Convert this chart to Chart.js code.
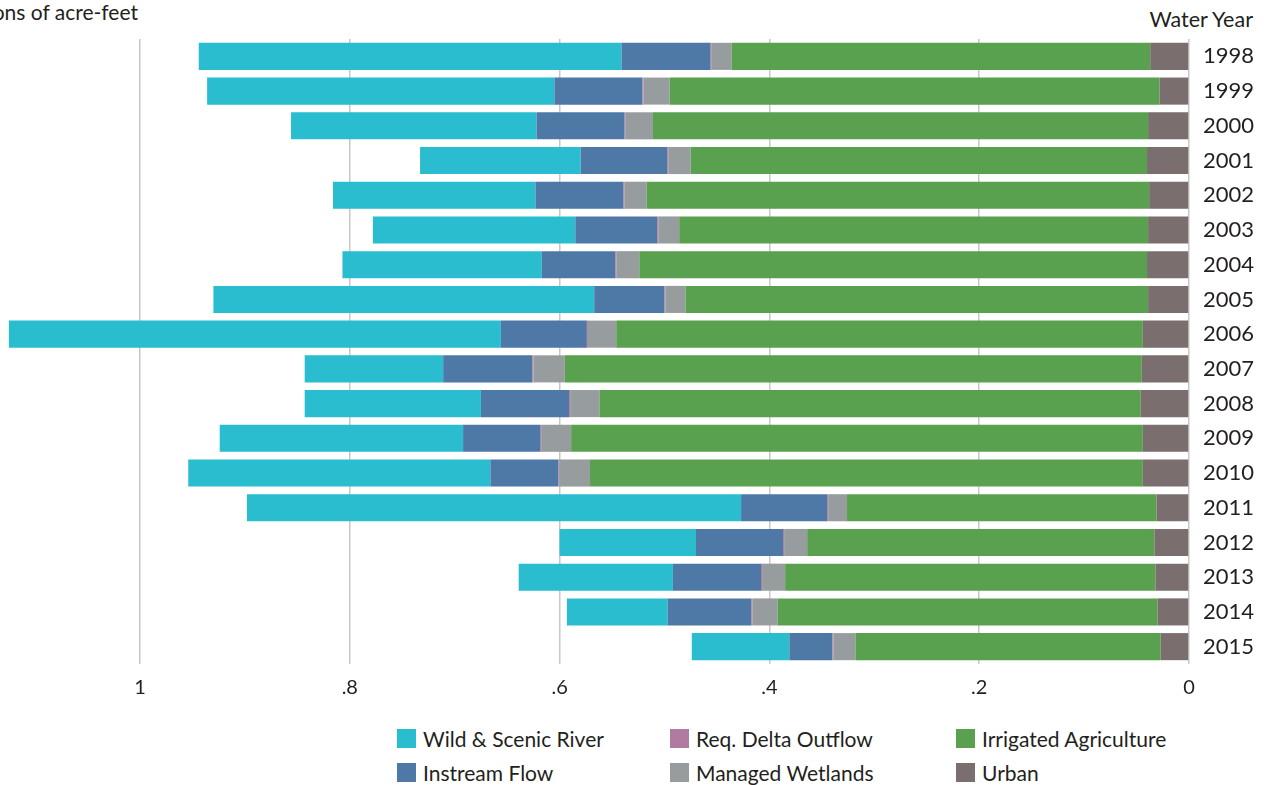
<!DOCTYPE html>
<html>
<head>
<meta charset="utf-8">
<script src="https://cdn.jsdelivr.net/npm/chart.js@4"></script>
<style>
  html, body { margin:0; padding:0; background:#fff; overflow:hidden; }
  body { width:1270px; height:785px; position:relative; font-family: Lato, "Open Sans", sans-serif; color:#231f20; }
  #wrap { position:absolute; left:0; top:0; width:1270px; height:710px; }
  #unit { position:absolute; right:1132px; top:-1px; font-size:21px; white-space:nowrap; line-height:26px; }
  #wy { position:absolute; right:17px; top:6px; font-size:21.5px; white-space:nowrap; line-height:26px; }
  .lg { position:absolute; font-size:21px; white-space:nowrap; line-height:24px; }
  .lg i { position:absolute; left:0; top:2px; width:19px; height:19px; }
  .lg span { position:absolute; left:26px; top:0; }
</style>
</head>
<body>
<div id="unit">Millions of acre-feet</div>
<div id="wy">Water Year</div>
<div id="wrap"><canvas id="c" width="1270" height="710"></canvas></div>
<div id="legend"></div>
<script>
const years = ["1998","1999","2000","2001","2002","2003","2004","2005","2006","2007","2008","2009","2010","2011","2012","2013","2014","2015"];
const urban     = [0.037,0.028,0.039,0.040,0.038,0.039,0.040,0.039,0.044,0.045,0.046,0.044,0.044,0.031,0.033,0.032,0.030,0.027];
const irrigAg   = [0.399,0.467,0.472,0.435,0.479,0.447,0.484,0.441,0.502,0.550,0.516,0.545,0.527,0.295,0.331,0.353,0.362,0.291];
const wetlands  = [0.019,0.025,0.026,0.021,0.021,0.020,0.022,0.019,0.027,0.030,0.028,0.028,0.029,0.018,0.022,0.022,0.024,0.021];
const reqDelta  = [0.001,0.001,0.001,0.001,0.001,0.001,0.001,0.001,0.001,0.001,0.001,0.001,0.001,0.001,0.001,0.001,0.001,0.001];
const instream  = [0.085,0.084,0.084,0.083,0.084,0.078,0.070,0.067,0.082,0.085,0.084,0.074,0.065,0.082,0.083,0.084,0.080,0.041];
const wildScenic= [0.403,0.331,0.234,0.153,0.193,0.193,0.190,0.363,0.469,0.132,0.168,0.232,0.288,0.471,0.130,0.147,0.096,0.093];
const xTicks = [0, 0.2, 0.4, 0.6, 0.8, 1];
const xTickLabels = ["0", ".2", ".4", ".6", ".8", "1"];

const seriesNames  = ["Urban","Irrigated Agriculture","Managed Wetlands","Req. Delta Outflow","Instream Flow","Wild & Scenic River"];
const seriesData   = [urban, irrigAg, wetlands, reqDelta, instream, wildScenic];
const seriesColors = ["#7a6e6e","#59a14f","#979d9e","#b07aa1","#4e79a7","#29bdcf"];
const legendOrder  = ["Wild & Scenic River","Req. Delta Outflow","Irrigated Agriculture","Instream Flow","Managed Wetlands","Urban"];

const FONT = "Lato, 'Open Sans', sans-serif";

const chart = new Chart(document.getElementById('c'), {
  type: 'bar',
  data: {
    labels: years,
    datasets: seriesNames.map((n, i) => ({
      label: n,
      data: seriesData[i],
      backgroundColor: seriesColors[i],
      borderWidth: 0,
      categoryPercentage: 1.0,
      barPercentage: 0.78
    }))
  },
  options: {
    indexAxis: 'y',
    responsive: false,
    animation: false,
    devicePixelRatio: 1,
    layout: { padding: { top: 39, left: 0, right: 0, bottom: 0 } },
    plugins: { legend: { display: false }, tooltip: { enabled: false }, title: { display: false } },
    scales: {
      x: {
        type: 'linear',
        reverse: true,
        stacked: true,
        min: 0,
        max: 1189 / 1049,
        position: 'bottom',
        z: 1,
        afterFit: s => { s.height = 46; },
        afterBuildTicks: s => { s.ticks = xTicks.map(v => ({ value: v })); },
        grid: { color: '#c8c8c8', lineWidth: 1.5, drawTicks: false },
        border: { display: false },
        ticks: {
          includeBounds: false,
          padding: 12,
          color: '#231f20',
          font: { family: FONT, size: 20 },
          callback: (v) => { const k = xTicks.indexOf(v); return k >= 0 ? xTickLabels[k] : ''; },
          maxRotation: 0
        }
      },
      y: {
        type: 'category',
        stacked: true,
        position: 'right',
        afterFit: s => { s.width = 81; },
        grid: { display: false, drawTicks: false },
        border: { display: false },
        ticks: { padding: 14, color: '#231f20', font: { family: FONT, size: 22 } }
      }
    }
  }
});

// HTML legend built from the datasets
const legendPos = [[397,727],[670,727],[956,727],[397,761],[670,761],[956,761]];
const lg = document.getElementById('legend');
legendOrder.forEach((name, k) => {
  const idx = seriesNames.indexOf(name);
  const d = document.createElement('div');
  d.className = 'lg';
  d.style.left = legendPos[k][0] + 'px';
  d.style.top = legendPos[k][1] + 'px';
  d.innerHTML = '<i style="background:' + seriesColors[idx] + '"></i><span></span>';
  d.querySelector('span').textContent = name;
  lg.appendChild(d);
});
</script>
</body>
</html>
